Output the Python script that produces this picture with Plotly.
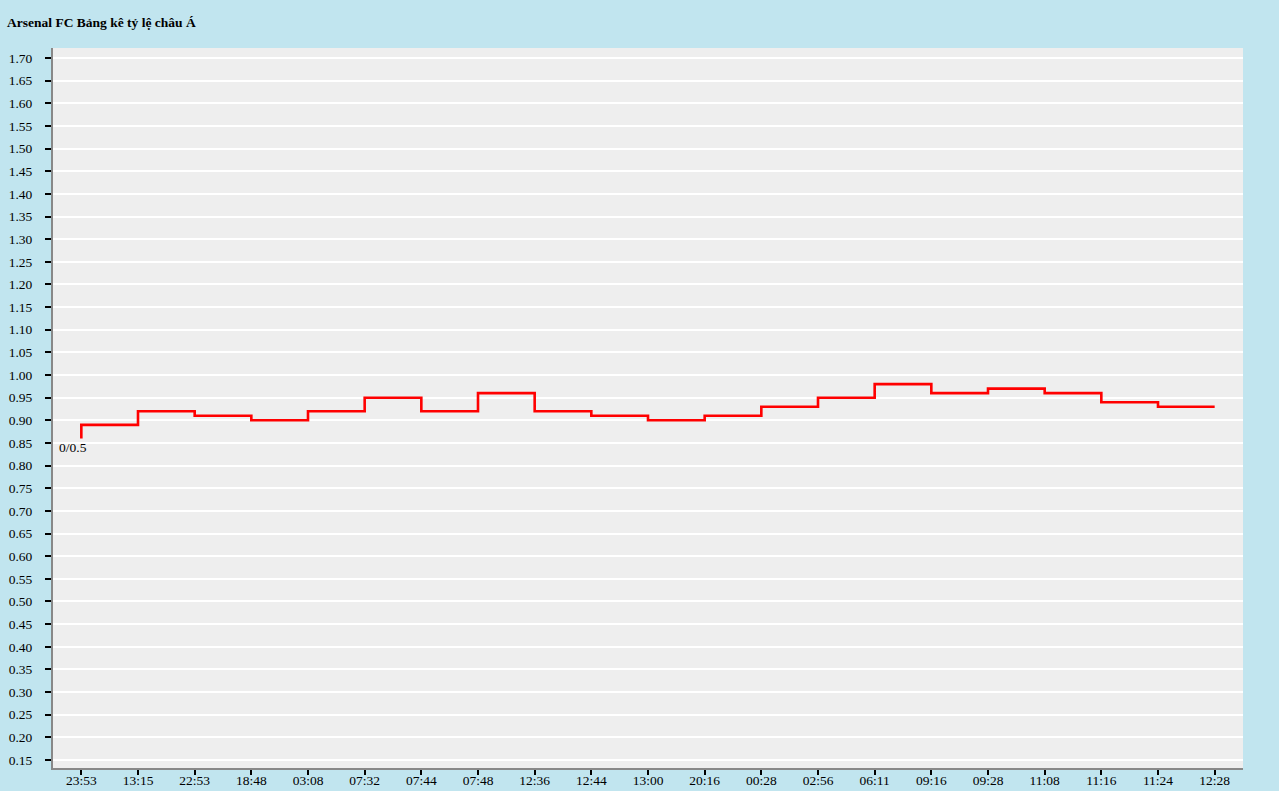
import plotly.graph_objects as go

times = ["23:53", "13:15", "22:53", "18:48", "03:08", "07:32", "07:44", "07:48",
         "12:36", "12:44", "13:00", "20:16", "00:28", "02:56", "06:11", "09:16",
         "09:28", "11:08", "11:16", "11:24", "12:28"]
odds = [0.86, 0.89, 0.92, 0.91, 0.90, 0.92, 0.95, 0.92, 0.96, 0.92, 0.91,
        0.90, 0.91, 0.93, 0.95, 0.98, 0.96, 0.97, 0.96, 0.94, 0.93]
handicap_label = "0/0.5"
y_ticks = [round(0.15 + 0.05 * i, 2) for i in range(32)]

fig = go.Figure()
fig.add_trace(go.Scatter(
    x=list(range(len(times))), y=odds, mode="lines",
    line=dict(color="#FF0000", width=2.6, shape="vh"),
    hoverinfo="skip", showlegend=False,
))
fig.add_annotation(x=0, y=odds[0], text=handicap_label, showarrow=False,
                   xshift=-8, yshift=-9,
                   font=dict(family="Liberation Serif", size=13.5, color="#000"))

fig.update_layout(
    width=1279, height=791,
    paper_bgcolor="#C1E5EF", plot_bgcolor="#EEEEEE",
    margin=dict(l=53, r=36, t=48, b=23, autoexpand=False),
    title=dict(text="<b>Arsenal FC Bảng kê tỷ lệ châu Á</b>", x=0.0055, xanchor="left",
               y=1 - 22 / 791, yanchor="middle",
               font=dict(family="Liberation Serif", size=13.5, color="#000")),
    font=dict(family="Liberation Serif", size=13.5, color="#000"),
)
fig.update_xaxes(
    range=[-0.5, len(times) - 0.5],
    tickmode="array", tickvals=list(range(len(times))), ticktext=times,
    showgrid=False, zeroline=False,
    showline=True, linecolor="#888888", linewidth=2,
    ticks="outside", ticklen=5, tickwidth=1.5, tickcolor="#000",
    ticklabelstandoff=-6,
    automargin=False, fixedrange=True,
)
fig.update_yaxes(
    range=[0.15 - 8 / 452.9, 1.70 + 10 / 452.9],
    tickmode="array", tickvals=y_ticks, ticktext=[f"{v:.2f}" for v in y_ticks],
    showgrid=True, gridcolor="#FFFFFF", gridwidth=1.5, zeroline=False,
    showline=True, linecolor="#888888", linewidth=2,
    ticks="outside", ticklen=6, tickwidth=1.5, tickcolor="#000",
    ticklabelstandoff=10,
    automargin=False, fixedrange=True,
)

fig.write_html("out.html", config={"displayModeBar": False},
               post_script="document.body.style.margin='0';")
